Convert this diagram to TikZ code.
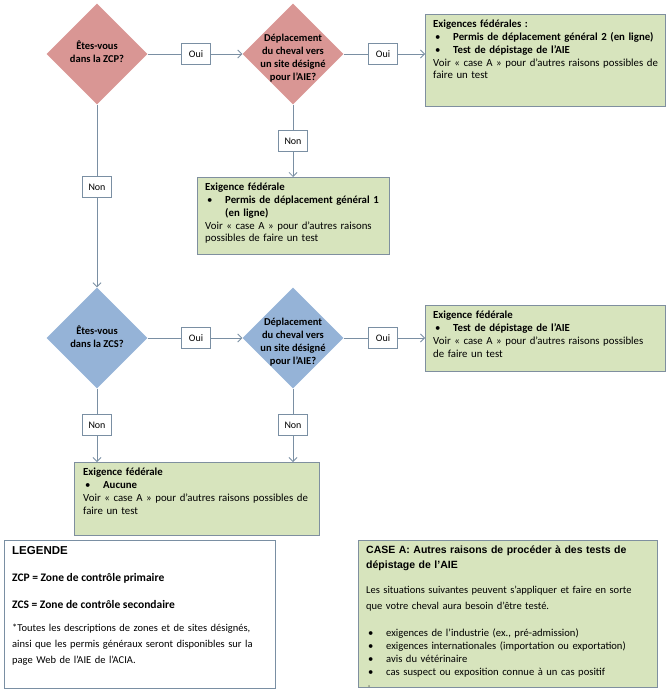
\documentclass[tikz,border=0pt]{standalone}
\usepackage{fontspec}
\setmainfont{Carlito}
\newfontfamily\arialf{Liberation Sans}
\usetikzlibrary{shapes.geometric,arrows.meta,decorations.pathmorphing}
\definecolor{lc}{HTML}{7A8FA3}
\definecolor{pinkd}{HTML}{D99694}
\definecolor{blued}{HTML}{95B3D7}
\definecolor{greenb}{HTML}{D7E4BD}
\definecolor{gbord}{HTML}{7F8F9F}
\newlength\pwa
\newlength\pwb
\newcommand{\bitem}[1]{\par\hangindent=20pt\hangafter=1\noindent\hspace*{2pt}\makebox[18pt][l]{\strut\textbullet}#1\par}
\begin{document}
\begin{tikzpicture}[x=1pt,y=-1pt,
 dia/.style={diamond, minimum width=101pt, minimum height=101pt, inner sep=0pt, draw=none},
 dtxt/.style={font=\bfseries\fontsize{10.5}{13}\selectfont, align=center, inner sep=0pt},
 lab/.style={draw=lc, fill=white, line width=0.8pt, minimum width=29pt, minimum height=21pt, inner sep=0pt, font=\fontsize{10}{11}\selectfont},
 gbox/.style={draw=gbord, fill=greenb, line width=0.8pt, anchor=north west, inner sep=0pt},
 wbox/.style={draw=lc, fill=white, line width=0.8pt, anchor=north west, inner sep=0pt},
 btxt/.style={anchor=north west, inner sep=0pt, text width=290pt, align=left, font=\fontsize{10.8}{12.8}\selectfont, execute at begin node={\setlength{\parindent}{0pt}}},
 conn/.style={draw=lc, line width=0.8pt},
 arr/.style={conn, -{Straight Barb[length=4pt,width=8pt]}},
 spell/.style={draw=red, line width=0.4pt, decorate, decoration={snake, amplitude=0.6pt, segment length=2.5pt}},
]
\useasboundingbox (0,0) rectangle (670,695);

% diamonds
\node[dia, fill=pinkd] (zcp) at (97,54) {};
\node[dia, fill=pinkd] (d2) at (293,54) {};
\node[dia, fill=blued] (zcs) at (97,338) {};
\node[dia, fill=blued] (d4) at (293,338) {};
\node[dtxt] (tzcp) at (97,52) {Êtes-vous\\dans la ZCP?};
\node[dtxt] (td2) at (293,58) {Déplacement\\du cheval vers\\un site désigné\\pour l’AIE?};
\node[dtxt] (tzcs) at (97,336.5) {Êtes-vous\\dans la ZCS?};
\node[dtxt] (td4) at (293,342) {Déplacement\\du cheval vers\\un site désigné\\pour l’AIE?};

% green boxes
\node[gbox, minimum width=240pt, minimum height=92pt] (g1) at (425,14) {};
\node[gbox, minimum width=192pt, minimum height=77pt] (g2) at (197,177) {};
\node[gbox, minimum width=240pt, minimum height=66pt] (g3) at (425,305) {};
\node[gbox, minimum width=245pt, minimum height=73pt] (g4) at (74,462) {};

\node[btxt] (t1) at ([shift={(8,4.5)}]g1.north west) {\strut\textbf{Exigences fédérales :}\bitem{\textbf{Permis de déplacement général 2 (en ligne)}}\bitem{\textbf{Test de dépistage de l’AIE}}Voir « case A » pour d’autres raisons possibles de\\faire un test};
\node[btxt] (t2) at ([shift={(8,4.5)}]g2.north west) {\strut\textbf{Exigence fédérale}\bitem{\textbf{Permis de déplacement général 1}\newline\textbf{(en ligne)}}Voir « case A » pour d’autres raisons\\possibles de faire un test};
\node[btxt] (t3) at ([shift={(8,4.5)}]g3.north west) {\strut\textbf{Exigence fédérale}\bitem{\textbf{Test de dépistage de l’AIE}}Voir « case A » pour d’autres raisons possibles\\de faire un test};
\node[btxt] (t4) at ([shift={(9,4.5)}]g4.north west) {\strut\textbf{Exigence fédérale}\bitem{\textbf{Aucune}}Voir « case A » pour d’autres raisons possibles de\\faire un test};

% labels
\node[lab] (oui1) at (196,54) {Oui};
\node[lab] (oui2) at (383,54) {Oui};
\node[lab] (non2) at (293,141) {Non};
\node[lab] (nonl) at (97,187) {Non};
\node[lab] (oui3) at (196,338) {Oui};
\node[lab] (oui4) at (383,338) {Oui};
\node[lab] (non3) at (97,425) {Non};
\node[lab] (non4) at (293,425) {Non};

% connectors
\draw[conn] (zcp) -- (oui1);
\draw[arr] (oui1) -- (d2);
\draw[conn] (d2) -- (oui2);
\draw[arr] (oui2) -- (oui2 -| g1.west);
\draw[conn] (d2) -- (non2);
\draw[arr] (non2) -- (non2 |- g2.north);
\draw[conn] (zcp) -- (nonl);
\draw[arr] (nonl) -- (zcs);
\draw[conn] (zcs) -- (oui3);
\draw[arr] (oui3) -- (d4);
\draw[conn] (d4) -- (oui4);
\draw[arr] (oui4) -- (oui4 -| g3.west);
\draw[conn] (zcs) -- (non3);
\draw[arr] (non3) -- (non3 |- g4.north);
\draw[conn] (d4) -- (non4);
\draw[arr] (non4) -- (non4 |- g4.north);

% legend
\node[wbox, minimum width=271pt, minimum height=148pt] (leg) at (4,540) {};
\node[anchor=base west, inner sep=0pt, font=\arialf\bfseries\fontsize{11.5}{14}\selectfont] (legt) at (12,554.5) {LEGENDE};
\node[anchor=base west, inner sep=0pt, font=\bfseries\fontsize{11.5}{12}\selectfont] (leg1) at (12,581) {ZCP = Zone de contrôle primaire};
\node[anchor=base west, inner sep=0pt, font=\bfseries\fontsize{11.5}{12}\selectfont] (leg2) at (12,608) {ZCS = Zone de contrôle secondaire};
\node[btxt, font=\fontsize{10.5}{16}\selectfont] (leg3) at (12,620.3) {\strut*Toutes les descriptions de zones et de sites désignés,\\ainsi que les permis généraux seront disponibles sur la\\page Web de l’AIE de l’ACIA.};

% case A
\node[gbox, minimum width=299pt, minimum height=147pt] (casea) at (358,540) {};
\node[btxt, font=\arialf\bfseries\fontsize{10.5}{15}\selectfont] (cah) at (366,543) {\strut CASE A: Autres raisons de procéder à des tests de\\dépistage de l’AIE};
\node[btxt, font=\fontsize{10.5}{16}\selectfont] (cap) at (366,582.3) {\strut Les situations suivantes peuvent s’appliquer et faire en sorte\\que votre cheval aura besoin d’être testé.};
\node[btxt, font=\fontsize{10.6}{13}\selectfont] (cab) at (366,623.5) {\bitem{exigences de l’industrie (ex., pré-admission)}\bitem{exigences internationales (importation ou exportation)}\bitem{avis du vétérinaire}\bitem{cas suspect ou exposition connue à un cas positif}\hspace*{2pt}{\scriptsize -}};
\settowidth{\pwa}{\fontsize{10.6}{13}\selectfont exigences de l’industrie (ex., }
\settowidth{\pwb}{\fontsize{10.6}{13}\selectfont pré-admission}
\coordinate (wv) at (386,634.8);
\draw[spell] ([xshift=\pwa]wv) -- ([xshift=\pwa+\pwb]wv);
\end{tikzpicture}
\end{document}
